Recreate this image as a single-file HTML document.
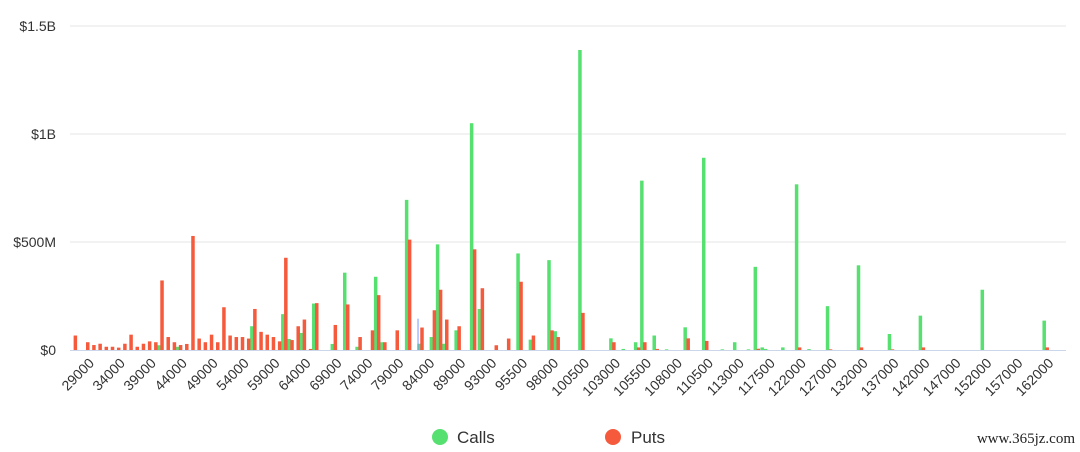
<!DOCTYPE html>
<html><head><meta charset="utf-8"><style>
html,body{margin:0;padding:0;background:#fff;}
svg{display:block;font-family:"Liberation Sans",sans-serif;}
</style></head><body>
<svg id="chart" width="1080" height="452" viewBox="0 0 1080 452" xmlns="http://www.w3.org/2000/svg">
<g id="grid"></g>
<g id="yaxis"></g>
<g id="bars"></g>
<g id="xaxis"></g>
<g>
  <g>
    <circle cx="440" cy="437" r="8" fill="#55e070"/>
    <text x="457" y="443" font-size="17" fill="#333">Calls</text>
  </g>
  <g>
    <circle cx="613" cy="437" r="8" fill="#f55a3c"/>
    <text x="631" y="443" font-size="17" fill="#333">Puts</text>
  </g>
</g>
<text x="1075" y="443" text-anchor="end" font-size="15" fill="#222" font-family="Liberation Serif, serif">www.365jz.com</text>
</svg>
<script>
const tickStrikes = [29000,34000,39000,44000,49000,54000,59000,64000,69000,74000,79000,84000,89000,93000,95500,98000,100500,103000,105500,108000,110500,113000,117500,122000,127000,132000,137000,142000,147000,152000,157000,162000];
const yTicks = [0,500,1000,1500];
const yTickLabels = ["$0","$500M","$1B","$1.5B"];
const callStrikes = [41000,44000,56000,61000,62000,64000,66000,69000,71000,73000,76000,77000,81000,83000,85000,86000,87000,89000,91000,92000,95500,96500,98000,98500,100500,103000,104000,105000,105500,106500,107500,109000,110500,112000,113000,115000,116000,117000,117500,120000,122000,124000,127000,132000,137000,142000,152000,162000];
const callValues = [22,15,110,166,51,79,215,28,358,15,339,36,695,29,60,489,29,91,1050,190,447,48,416,87,1389,54,5,36,784,67,3,105,890,3,36,3,385,12,5,12,767,4,203,392,74,159,279,136];
const putStrikes = [27000,29000,30000,31000,32000,33000,34000,35000,36000,37000,38000,39000,40000,41000,42000,43000,44000,45000,46000,47000,48000,49000,50000,51000,52000,53000,54000,55000,56000,57000,58000,59000,60000,61000,62000,63000,64000,65000,66000,69000,71000,73000,75000,76000,77000,79000,81000,83000,85000,86000,87000,89000,91000,92000,93500,94500,95500,96500,98000,98500,100500,103000,105000,105500,106500,109000,110500,116000,122000,127000,132000,137000,142000,162000];
const putValues = [67,36,23,29,15,15,11,29,71,15,29,40,36,322,60,36,23,28,528,53,36,71,36,198,67,60,60,53,190,84,71,60,40,427,46,110,141,5,217,116,211,60,91,254,36,91,511,104,184,279,141,110,466,286,22,53,316,67,91,60,172,36,12,36,5,54,42,6,12,3,12,3,12,12];
const markerStrike = 82800;
const markerValue = 145;

const NS="http://www.w3.org/2000/svg";
const X0=85, XSTEP=30.95, Y0=350, YPX=0.216, PLOT_L=70, PLOT_R=1066;
function xScale(s){
  const n=tickStrikes.length;
  if(s<=tickStrikes[0]) return X0-(tickStrikes[0]-s)/(tickStrikes[1]-tickStrikes[0])*XSTEP;
  for(let k=0;k<n-1;k++){
    if(s<=tickStrikes[k+1]) return X0+XSTEP*(k+(s-tickStrikes[k])/(tickStrikes[k+1]-tickStrikes[k]));
  }
  return X0+XSTEP*(n-1);
}
function yScale(v){return Y0-v*YPX;}
function mk(tag,attrs,parent){const e=document.createElementNS(NS,tag);for(const k in attrs)e.setAttribute(k,attrs[k]);parent.appendChild(e);return e;}

const grid=document.getElementById('grid'), yaxis=document.getElementById('yaxis');
yTicks.forEach((t,i)=>{
  const y=yScale(t);
  if(t>0){
    const l=mk('line',{x1:PLOT_L,x2:PLOT_R,y1:y,y2:y,stroke:'#e6e6e6','stroke-width':1},grid);
    
    
  }
  const tx=mk('text',{x:56,y:y+5,'text-anchor':'end','font-size':14,fill:'#333'},yaxis);
  tx.textContent=yTickLabels[i];
  
  
});
const base=mk('line',{x1:PLOT_L,x2:PLOT_R,y1:Y0+0.5,y2:Y0+0.5,stroke:'#ccd6eb','stroke-width':1},grid);



const bars=document.getElementById('bars');
callStrikes.forEach((s,i)=>{
  const cx=xScale(s), y=yScale(callValues[i]);
  const r=mk('rect',{x:cx-2,y:y,width:3.5,height:Math.max(0.5,Y0-y),fill:'#55e070'},bars);
  
  
});
putStrikes.forEach((s,i)=>{
  const cx=xScale(s), y=yScale(putValues[i]);
  const r=mk('rect',{x:cx+1,y:y,width:3.5,height:Math.max(0.5,Y0-y),fill:'#f55a3c'},bars);
  
  
});
const mx=xScale(markerStrike);
const m=mk('line',{x1:mx,x2:mx,y1:yScale(markerValue),y2:Y0,stroke:'#7799ff','stroke-width':1},bars);



const xaxis=document.getElementById('xaxis');
tickStrikes.forEach((s,k)=>{
  const x=xScale(s)+10, y=364;
  const t=mk('text',{x:x,y:y,'text-anchor':'end','font-size':14,fill:'#333',transform:`rotate(-45 ${x} ${y})`},xaxis);
  t.textContent=String(s);
  
  
});
</script>
</body></html>
